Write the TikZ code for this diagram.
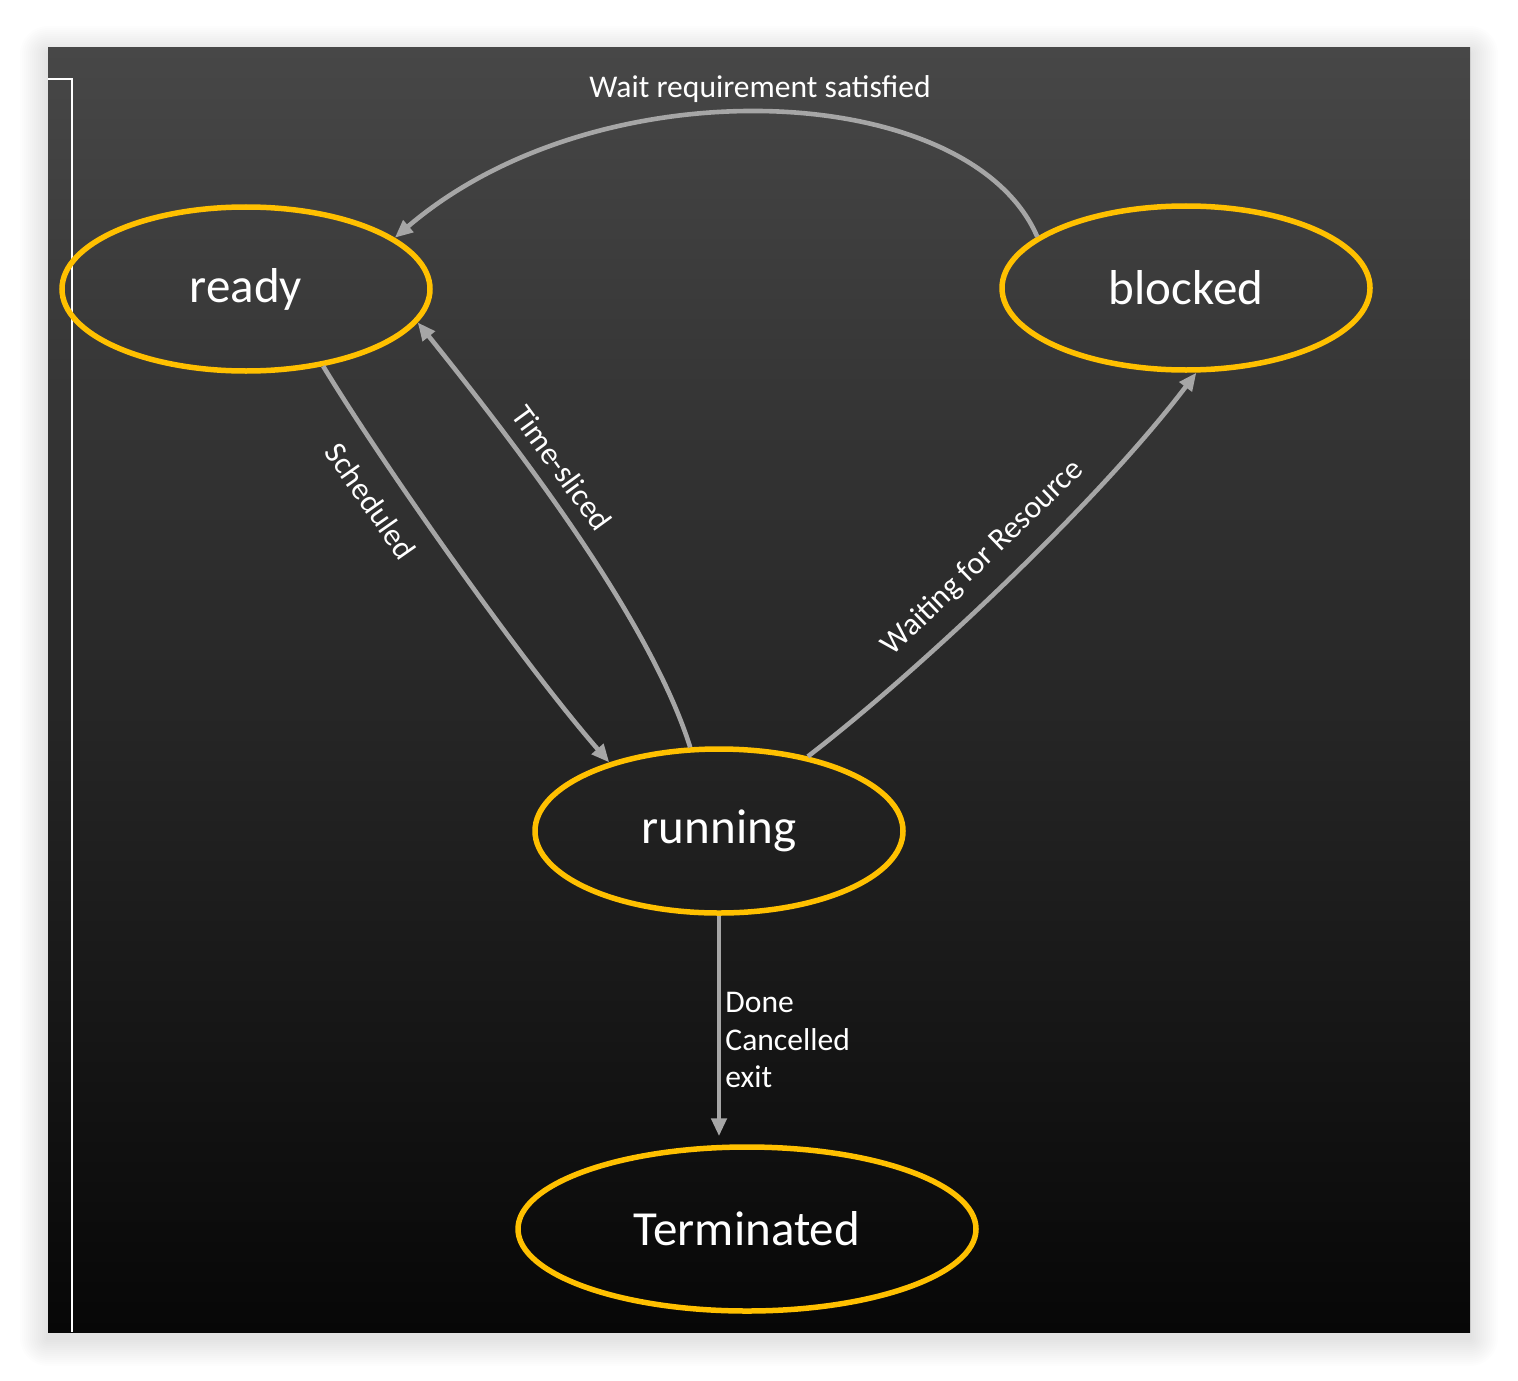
\documentclass[tikz,border=0pt]{standalone}
\usepackage{fontspec}
\setmainfont{Carlito}
\usetikzlibrary{shapes.geometric,arrows.meta}
\definecolor{stateyellow}{HTML}{FFC000}
\definecolor{arrowgray}{HTML}{A6A6A6}
\definecolor{paneltop}{HTML}{474747}
\definecolor{panelbot}{HTML}{070707}
\tikzset{
  statenode/.style={ellipse, draw=stateyellow, line width=2.75pt, minimum width=184pt, minimum height=82pt, inner sep=0pt, text=white, font=\fontsize{24.5}{29}\selectfont},
  conn/.style={draw=arrowgray, line width=2.3pt, -{Triangle[length=9pt,width=7.5pt]}},
  lbl/.style={text=white, font=\fontsize{15.8}{18.75}\selectfont, inner sep=0pt}
}
\begin{document}
\begin{tikzpicture}[x=0.5pt,y=-0.5pt]
\useasboundingbox (0,0) rectangle (1518,1380);
\fill[white] (0,0) rectangle (1518,1380);
\foreach \i in {1,...,14}{
  \fill[black, opacity=0.006, rounded corners=\i pt] ({48-2*\i},{48-2*\i+6}) rectangle ({1470+2*\i},{1332+2*\i+6});
}
\shade[top color=paneltop, bottom color=panelbot] (48,48) rectangle (1470,1332);
\draw[white, line width=0.7pt] (48,79) -- (72,79) -- (72,1332);

\node[statenode] (ready) at (246,289) {ready};
\node[statenode] (blocked) at (1186,288) {blocked};
\node[statenode] (running) at (719,831) {running};
\node[statenode, minimum width=229pt] (term) at (747,1229) {Terminated};

\draw[conn] (blocked.161) .. controls (970,80) and (600,62) .. (ready.19);
\draw[conn] (ready.-45) .. controls (380,460) and (520,660) .. (running.148.6);
\draw[conn] (running.109) .. controls (650,620) and (520,450) .. (ready.-11);
\draw[conn] (running.40) .. controls (920,670) and (1100,500) .. (blocked.-83);
\draw[conn, shorten >=4pt] (running.south) -- (running.south |- term.north);

\node[lbl] (lwait) at (760,89) {Wait requirement satisfied};
\node[lbl, rotate=-55] (lsched) at (371,501) {Scheduled};
\node[lbl, rotate=-54] (ltime) at (562,468) {Time-sliced};
\node[lbl, rotate=44] (lres) at (983,558) {Waiting for Resource};
\node[lbl, anchor=west, align=left] (ldone) at (725,1040) {Done\\Cancelled\\exit};
\end{tikzpicture}
\end{document}
